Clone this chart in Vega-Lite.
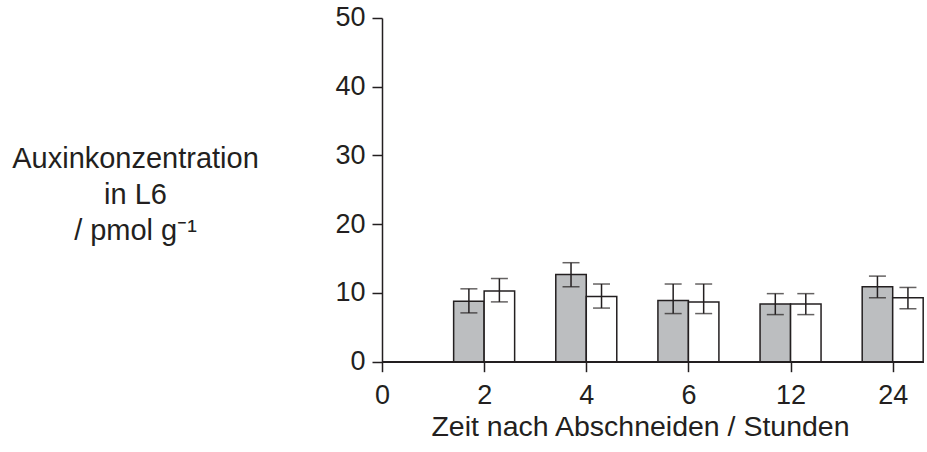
{
  "$schema": "https://vega.github.io/schema/vega-lite/v6.json",
  "autosize": "none",
  "width": 542,
  "height": 343.7,
  "padding": {"left": 382, "top": 18, "right": 3, "bottom": 90},
  "background": "white",
  "config": {
    "view": {"stroke": null},
    "font": "Liberation Sans",
    "axis": {"labelFont": "Liberation Sans", "titleFont": "Liberation Sans", "labelColor": "#231f20", "titleColor": "#231f20", "tickColor": "#231f20", "domainColor": "#231f20", "labelFontSize": 27, "titleFontSize": 28.5, "titleFontWeight": "normal", "grid": false, "tickWidth": 1.5, "domainWidth": 1.5}
  },
  "data": {
    "values": [
      {"time": "2", "group": "A", "value": 8.8, "lo": 7.1, "hi": 10.6},
      {"time": "2", "group": "B", "value": 10.3, "lo": 8.7, "hi": 12.1},
      {"time": "4", "group": "A", "value": 12.7, "lo": 10.9, "hi": 14.4},
      {"time": "4", "group": "B", "value": 9.5, "lo": 7.8, "hi": 11.3},
      {"time": "6", "group": "A", "value": 8.9, "lo": 7.0, "hi": 11.3},
      {"time": "6", "group": "B", "value": 8.7, "lo": 7.0, "hi": 11.3},
      {"time": "12", "group": "A", "value": 8.4, "lo": 6.85, "hi": 9.9},
      {"time": "12", "group": "B", "value": 8.4, "lo": 6.85, "hi": 9.9},
      {"time": "24", "group": "A", "value": 10.9, "lo": 9.3, "hi": 12.45},
      {"time": "24", "group": "B", "value": 9.3, "lo": 7.7, "hi": 10.8}
    ]
  },
  "layer": [
    {
      "mark": {"type": "rule", "color": "#231f20", "strokeWidth": 1.5},
      "encoding": {"y": {"datum": 0, "type": "quantitative"}}
    },
    {
      "transform": [{"filter": "datum.group === 'A'"}],
      "mark": {"type": "bar", "width": 30.5, "xOffset": -15.25, "fill": "#bcbec0", "stroke": "#231f20", "strokeWidth": 1.5},
      "encoding": {
        "x": {
          "field": "time", "type": "ordinal",
          "scale": {"type": "point", "domain": ["0", "2", "4", "6", "12", "24"], "range": [0, 510.7], "padding": 0},
          "axis": {"domain": false, "tickSize": 10, "labelAngle": 0, "labelPadding": 11, "title": "Zeit nach Abschneiden / Stunden", "titleX": 258, "titleY": 74, "titleBaseline": "alphabetic", "titleAlign": "center", "titleAnchor": null}
        },
        "y": {
          "field": "value", "type": "quantitative",
          "scale": {"domain": [0, 50], "nice": false},
          "axis": {
            "values": [0, 5, 10, 15, 20, 25, 30, 35, 40, 45, 50],
            "labelExpr": "datum.value % 10 === 0 ? datum.label : ''",
            "tickSize": {"condition": {"test": "datum.value % 10 === 0", "value": 10}, "value": 6},
            "labelPadding": 7,
            "title": ["Auxinkonzentration", "in L6", "/ pmol g⁻¹"],
            "titleFontSize": 29,
            "titleAngle": 0, "titleX": -247, "titleY": 150, "titleAlign": "center", "titleBaseline": "alphabetic", "titleLineHeight": 35.7, "titleAnchor": null
          }
        }
      }
    },
    {
      "transform": [{"filter": "datum.group === 'B'"}],
      "mark": {"type": "bar", "width": 30.5, "xOffset": 15.25, "fill": "white", "stroke": "#231f20", "strokeWidth": 1.5},
      "encoding": {
        "x": {"field": "time", "type": "ordinal"},
        "y": {"field": "value", "type": "quantitative"}
      }
    },
    {
      "transform": [{"filter": "datum.group === 'A'"}],
      "mark": {"type": "rule", "xOffset": -15.25, "color": "#231f20", "strokeWidth": 1.5},
      "encoding": {
        "x": {"field": "time", "type": "ordinal"},
        "y": {"field": "lo", "type": "quantitative"},
        "y2": {"field": "hi"}
      }
    },
    {
      "transform": [{"filter": "datum.group === 'B'"}],
      "mark": {"type": "rule", "xOffset": 15.25, "color": "#231f20", "strokeWidth": 1.5},
      "encoding": {
        "x": {"field": "time", "type": "ordinal"},
        "y": {"field": "lo", "type": "quantitative"},
        "y2": {"field": "hi"}
      }
    },
    {
      "transform": [{"filter": "datum.group === 'A'"}, {"fold": ["lo", "hi"], "as": ["end", "ev"]}],
      "mark": {"type": "tick", "xOffset": -15.25, "color": "#231f20", "size": 17, "thickness": 1.5, "orient": "horizontal"},
      "encoding": {
        "x": {"field": "time", "type": "ordinal"},
        "y": {"field": "ev", "type": "quantitative"}
      }
    },
    {
      "transform": [{"filter": "datum.group === 'B'"}, {"fold": ["lo", "hi"], "as": ["end", "ev"]}],
      "mark": {"type": "tick", "xOffset": 15.25, "color": "#231f20", "size": 17, "thickness": 1.5, "orient": "horizontal"},
      "encoding": {
        "x": {"field": "time", "type": "ordinal"},
        "y": {"field": "ev", "type": "quantitative"}
      }
    }
  ]
}
